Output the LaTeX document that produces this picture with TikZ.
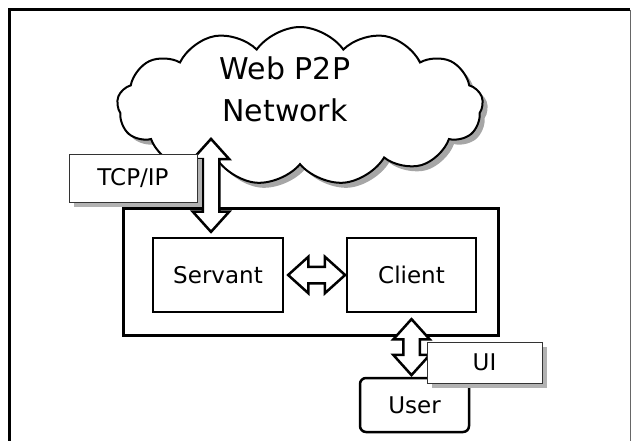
\documentclass[tikz,border=0pt]{standalone}
\usepackage{fontspec}
\setmainfont{DejaVu Sans}
\usetikzlibrary{shapes,shadows,positioning}

\tikzset{
  box/.style={draw, line width=2.5pt, fill=white, minimum width=130pt, minimum height=74pt, font=\fontsize{23}{27}\selectfont},
  tag/.style={draw=black!80, line width=1pt, fill=white, font=\fontsize{23}{27}\selectfont,
    drop shadow={shadow xshift=5pt, shadow yshift=-5pt, fill=black!30, opacity=1}},
  link/.style={double arrow, draw, line width=2.5pt, fill=white, inner xsep=0pt, inner ysep=7pt,
    double arrow head extend=10pt, double arrow tip angle=84},
}

\begin{document}
\begin{tikzpicture}[x=1pt, y=-1pt]
\useasboundingbox (0,0) rectangle (631,441);

% page frame
\draw[line width=3pt] (9,441) -- (9,10) -- (630,10);
\draw[black!60, line width=1pt] (630,10) -- (630,441);

% network cloud
\node[cloud, cloud puffs=13, cloud puff arc=110, aspect=2.3, draw, line width=2pt, fill=white,
  minimum width=366pt, minimum height=158pt,
  drop shadow={shadow xshift=5pt, shadow yshift=-5pt, fill=black!35, opacity=1}] (net) at (300,106) {};
\node[align=center, font=\fontsize{30}{42}\selectfont] (netlabel) at (285,89) {Web P2P\\Network};

% peer
\node[draw, line width=3pt, minimum width=375pt, minimum height=127pt] (peer) at (310.5,271.5) {};
\node[box] (servant) at (218,275) {Servant};
\node[box, minimum width=129pt] (client) at (411.5,275) {Client};
\node[box, rounded corners=6pt, minimum width=109pt, minimum height=54pt] (user) at (414.5,405) {User};

% links
\node[link, rotate=90, minimum height=93pt, anchor=west] (netlink) at ([xshift=-7pt, yshift=3pt]servant.north) {};
\node[link, minimum height=57pt, right=2pt of servant] (peerlink) {};
\node[link, rotate=90, minimum height=56pt, anchor=east] (uilink) at ([yshift=-4pt]client.south) {};

% protocol tags
\node[tag, minimum width=128pt, minimum height=48pt] (tcp) at (133,178) {TCP/IP};
\node[tag, minimum width=115pt, minimum height=41pt] (ui) at (484.5,362.5) {UI};
\end{tikzpicture}
\end{document}
